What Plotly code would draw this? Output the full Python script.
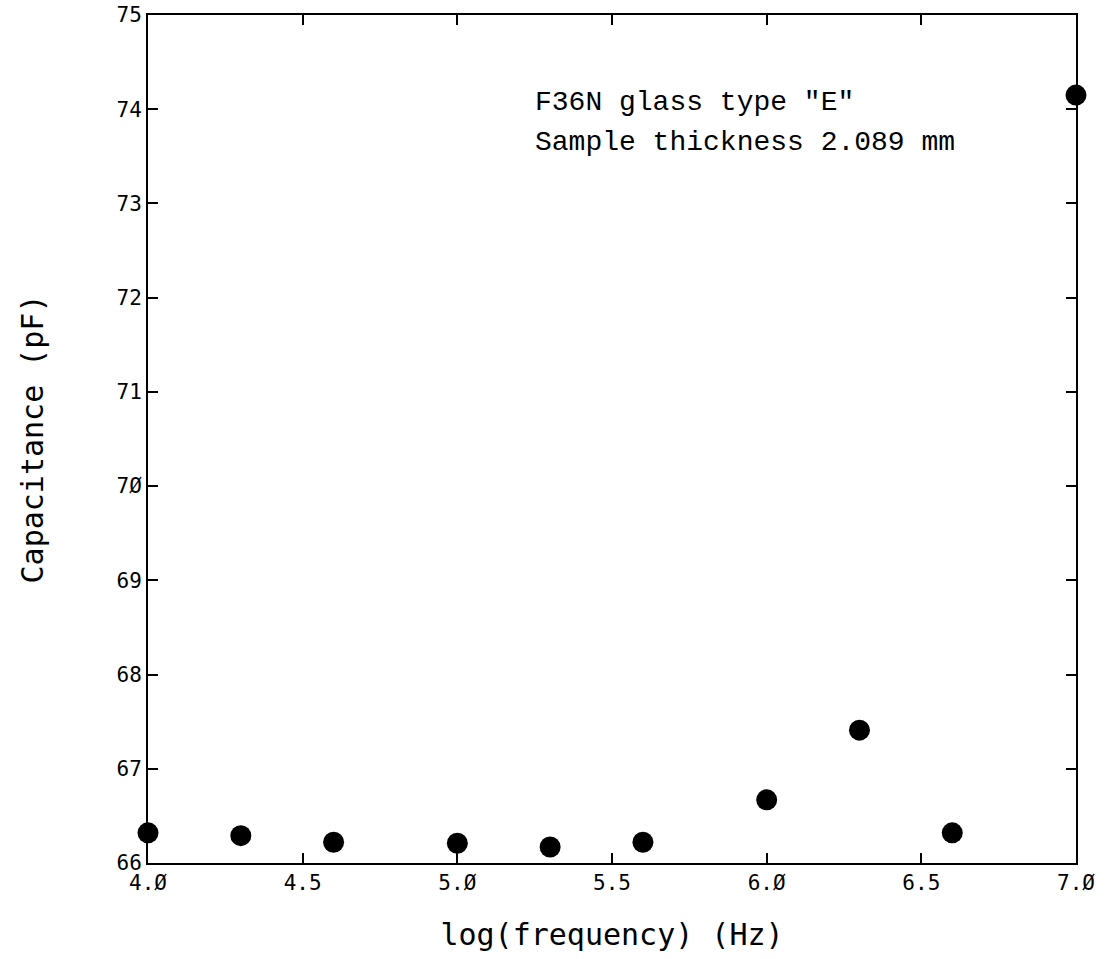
import plotly.graph_objects as go

log_freq = [4.0, 4.3, 4.6, 5.0, 5.3, 5.6, 6.0, 6.3, 6.6, 7.0]
capacitance = [66.32, 66.29, 66.22, 66.21, 66.17, 66.22, 66.67, 67.41, 66.32, 74.15]

x_ticks = [4.0, 4.5, 5.0, 5.5, 6.0, 6.5, 7.0]
x_tick_text = ["4.Ø", "4.5", "5.Ø", "5.5", "6.Ø", "6.5", "7.Ø"]
y_ticks = [66, 67, 68, 69, 70, 71, 72, 73, 74, 75]
y_tick_text = ["66", "67", "68", "69", "7Ø", "71", "72", "73", "74", "75"]

note_lines = ['F36N glass type "E"', 'Sample thickness 2.089 mm']

fig = go.Figure()
fig.add_trace(go.Scatter(
    x=log_freq, y=capacitance, mode="markers",
    marker=dict(size=21, color="black", symbol="circle"),
    cliponaxis=False, showlegend=False,
))

axis_common = dict(
    showgrid=False, zeroline=False, showline=True, linecolor="black", linewidth=2,
    ticks="inside", ticklen=10, tickwidth=1.5, tickcolor="black", mirror="ticks",
    tickfont=dict(family="DejaVu Sans Mono", size=21, color="black"),
    automargin=False, ticklabeloverflow="allow",
)

fig.update_xaxes(
    range=[4.0, 7.0], tickvals=x_ticks, ticktext=x_tick_text,
    title=dict(text="log(frequency) (Hz)", standoff=30,
               font=dict(family="DejaVu Sans Mono", size=30, color="black")),
    **axis_common,
)
fig.update_yaxes(
    range=[66, 75], tickvals=y_ticks, ticktext=y_tick_text,
    title=dict(text="Capacitance (pF)", standoff=64,
               font=dict(family="DejaVu Sans Mono", size=30, color="black")),
    **axis_common,
)

for i, line in enumerate(note_lines):
    fig.add_annotation(
        xref="paper", yref="paper", x=(533 - 148) / (1076 - 148),
        y=1 - (102 + 40 * i - 15) / (863 - 15),
        text=line, showarrow=False, xanchor="left", yanchor="middle",
        font=dict(family="Liberation Mono", size=28, color="black"),
    )

fig.update_layout(
    width=1115, height=959,
    margin=dict(l=148, r=39, t=15, b=96),
    plot_bgcolor="white", paper_bgcolor="white",
)

fig.write_html("out.html", config={"displayModeBar": False},
               post_script="document.body.style.margin='0';")
